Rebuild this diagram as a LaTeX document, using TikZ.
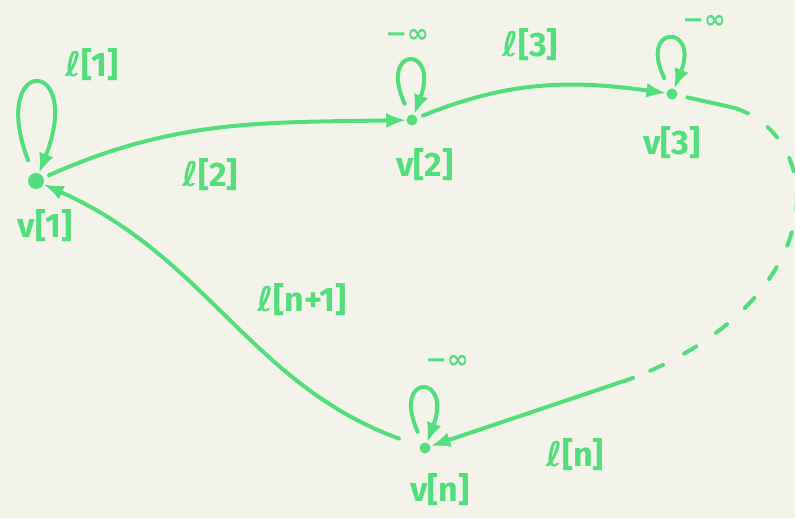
\documentclass[tikz,border=0pt]{standalone}
\usepackage{fontspec}
\setmainfont{Fira Sans}
\newfontfamily\symfont{DejaVu Sans}
\newcommand{\ellsym}{{\symfont\bfseries ℓ}}
\usetikzlibrary{arrows.meta}
\definecolor{inkgreen}{RGB}{82,222,124}
\definecolor{paper}{RGB}{244,243,234}
\begin{document}
\begin{tikzpicture}[x=1pt,y=-1pt,
  ink/.style={draw=inkgreen, line width=4pt, line cap=round},
  arr/.style={ink, -{Latex[length=20pt,width=15pt]}},
  vert/.style={circle, fill=inkgreen, inner sep=0pt, minimum size=11pt},
  lab/.style={text=inkgreen, inner sep=1pt, font=\bfseries\fontsize{34}{34}\selectfont},
  inf/.style={text=inkgreen, inner sep=1pt, font=\symfont\bfseries\fontsize{26}{26}\selectfont}]
\fill[paper] (0,0) rectangle (795,518);
\useasboundingbox (0,0) rectangle (795,518);
% vertices
\node[vert, minimum size=16pt] (v1) at (36,181) {};
\node[vert] (v2) at (412,120) {};
\node[vert] (v3) at (672,94) {};
\node[vert] (vn) at (425,448) {};
% vertex labels
\node[lab] (lv1) at (45,226) {v[1]};
\node[lab] (lv2) at (425,165) {v[2]};
\node[lab] (lv3) at (672,143) {v[3]};
\node[lab] (lvn) at (440,490) {v[n]};
% self loops
\draw[arr, shorten <=14pt] (v1) .. controls (-12,55) and (85,55) .. (v1);
\draw[arr, shorten <=12pt] (v2) .. controls (378,45) and (440,45) .. (v2);
\draw[arr, shorten <=12pt] (v3) .. controls (638,24) and (700,24) .. (v3);
\draw[arr, shorten <=12pt] (vn) .. controls (391,373) and (453,373) .. (vn);
\node[lab] (l1) at (92,65) {\ellsym[1]};
\node[inf] (m2) at (407,36) {−∞};
\node[inf] (m3) at (704,22) {−∞};
\node[inf] (mn) at (447,362) {−∞};
% edges
\draw[arr, shorten <=6pt] (v1) to[out=24,in=181] (v2);
\node[lab] (l2) at (210,175) {\ellsym[2]};
\draw[arr, shorten <=6pt] (v2) to[out=22,in=172] (v3);
\node[lab] (l3) at (530,45) {\ellsym[3]};
\coordinate (c1) at (735,108);
\coordinate (c2) at (633,378);
\draw[ink, shorten <=10pt] (v3) -- (c1);
\draw[ink, dash pattern=on 14pt off 24pt] (c1) .. controls (830,140) and (830,300) .. (c2);
\draw[arr] (c2) -- (vn);
\node[lab] (ln) at (575,455) {\ellsym[n]};
\draw[arr, shorten <=22pt] (vn) to[out=160,in=-24] (v1);
\node[lab] (ln1) at (302,300) {\ellsym[n+1]};
\end{tikzpicture}
\end{document}
